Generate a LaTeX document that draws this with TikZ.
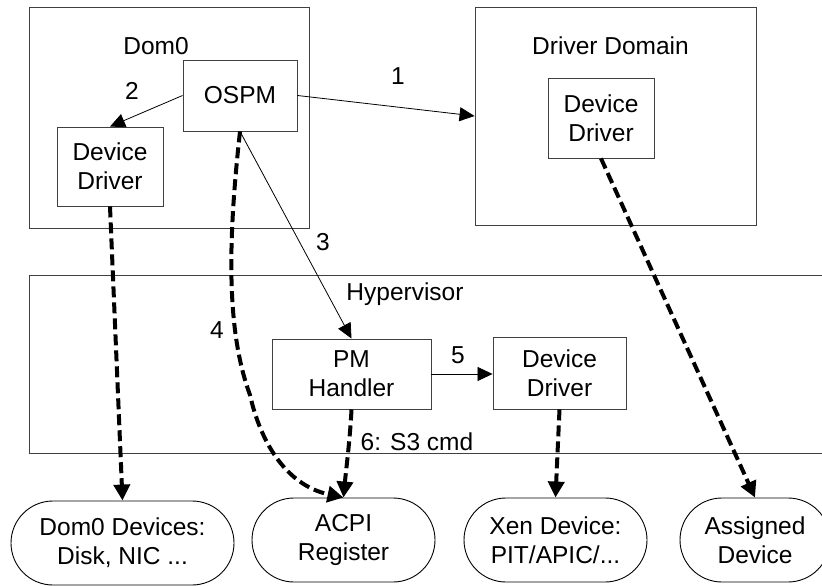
\documentclass[tikz,border=0pt]{standalone}
\usepackage{fontspec}
\setmainfont{Liberation Sans}
\usetikzlibrary{arrows.meta,shapes.misc}
\newcommand\dfont{\fontsize{24.5bp}{29bp}\selectfont}
\begin{document}
\begin{tikzpicture}[x=1bp,y=-1bp,
  box/.style={draw=black!75, line width=0.9bp, inner sep=0pt, align=center, font=\dfont},
  term/.style={rounded rectangle, draw=black, line width=0.9bp, inner sep=0pt, align=center, font=\dfont},
  lbl/.style={anchor=base, inner sep=0pt, font=\dfont},
  solidarr/.style={-{Triangle[length=15bp,width=14bp]}, line width=0.8bp},
  dasharr/.style={-{Triangle[length=16bp,width=16bp]}, line width=4bp, dash pattern=on 11bp off 5bp}
]
\useasboundingbox (0,0) rectangle (822,586);
\clip (0,0) rectangle (822,586);
% containers
\node[box, minimum width=280bp, minimum height=221bp] (dom0) at (169,117.5) {};
\node[box, minimum width=281bp, minimum height=218bp] (ddom) at (615.5,116) {};
\node[box, minimum width=801bp, minimum height=178bp] (hyp) at (429.5,364) {};
\node[lbl] (dom0l) at (156,55) {Dom0};
\node[lbl] (ddoml) at (610.5,55) {Driver Domain};
\node[lbl] (hypl) at (405,300) {Hypervisor};
% inner boxes
\node[box, minimum width=114bp, minimum height=71bp] (ospm) at (240,95.5) {OSPM};
\node[box, minimum width=106bp, minimum height=79bp] (dd0) at (110,166.5) {Device\\Driver};
\node[box, minimum width=106bp, minimum height=80bp] (dd1) at (601,118) {Device\\Driver};
\node[box, minimum width=159bp, minimum height=70bp] (pm) at (351.5,374) {PM\\Handler};
\node[box, minimum width=133bp, minimum height=72bp] (hdd) at (559.5,373) {Device\\Driver};
% terminals
\node[term, minimum width=223bp, minimum height=84bp] (ed0) at (122.5,543) {Dom0 Devices:\\Disk, NIC ...};
\node[term, minimum width=183bp, minimum height=84bp] (acpi) at (343.5,540) {ACPI\\Register};
\node[term, minimum width=183bp, minimum height=84bp] (xen) at (555.5,540) {Xen Device:\\PIT/APIC/...};
\node[term, minimum width=150bp, minimum height=84bp] (asg) at (755,540) {Assigned\\Device};
% labels
\node[lbl] (l1) at (398,85) {1};
\node[lbl] (l2) at (132,100) {2};
\node[lbl] (l3) at (323,250) {3};
\node[lbl] (l4) at (217,338) {4};
\node[lbl] (l5) at (458,363) {5};
\node[lbl] (l6) at (417,450) {6: S3 cmd};
% solid arrows
\draw[solidarr] (ospm.east) -- (ddom.west);
\draw[solidarr] (ospm.west) -- (dd0.north);
\draw[solidarr] (ospm.south) -- (pm.north);
\draw[solidarr] (pm.east) -- (hdd.west |- pm.east);
% dashed arrows
\coordinate (c4) at (250,395);
\draw[dasharr] (ospm.south) .. controls (228,240) and (226,330) .. (c4)
   .. controls (260,440) and (285,485) .. (acpi.north);
\draw[dasharr] (pm.south) .. controls (350,440) and (346,470) .. (acpi.north);
\draw[dasharr] (dd0.south) -- (ed0.north);
\draw[dasharr] (hdd.south) -- (xen.north);
\draw[dasharr] (dd1.south) -- (asg.north);
\end{tikzpicture}
\end{document}
